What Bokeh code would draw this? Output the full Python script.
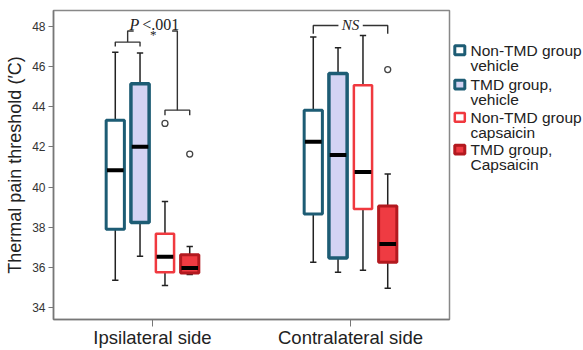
from bokeh.plotting import figure
from bokeh.models import Range1d, FixedTicker
from bokeh.layouts import row
from bokeh.embed import file_html
from bokeh.resources import INLINE
from bokeh.core.properties import value

# ---------------- data ----------------
sides = ["Ipsilateral side", "Contralateral side"]
legend_line1 = ["Non-TMD group", "TMD group,", "Non-TMD group", "TMD group,"]
legend_line2 = ["vehicle", "vehicle", "capsaicin", "Capsaicin"]

ipsi_lower = [35.35, 36.55, 35.09, 35.64]
ipsi_q1 = [37.90, 38.23, 35.75, 35.72]
ipsi_median = [40.83, 42.00, 36.52, 35.97]
ipsi_q3 = [43.33, 45.15, 37.67, 36.63]
ipsi_upper = [46.72, 46.68, 39.28, 37.04]

contra_lower = [36.25, 35.75, 35.85, 34.96]
contra_q1 = [38.65, 36.47, 38.91, 36.25]
contra_median = [42.26, 41.60, 40.75, 37.16]
contra_q3 = [43.83, 45.65, 45.07, 39.06]
contra_upper = [47.47, 46.94, 47.55, 40.65]

outlier_side = [0, 0, 1]
outlier_group = [2, 3, 3]
outlier_value = [43.17, 41.64, 45.85]

y_ticks = [34, 36, 38, 40, 42, 44, 46, 48]

# ---------------- styles ----------------
fills = ["#ffffff", "#d3d3f3", "#ffffff", "#ef3b42"]
lines = ["#1d5c74", "#1d5c74", "#f0393f", "#b3191f"]
lwidths = [3, 3.5, 2.5, 3]
offsets = [-0.188, -0.063, 0.063, 0.188]
box_w = 0.092
cap_w = 0.032
FONT = "Liberation Sans"
SERIF = "Liberation Serif"

p = figure(width=452, height=350, output_backend="svg", toolbar_location=None,
           x_range=Range1d(0.5, 2.5), y_range=Range1d(33.40, 48.794),
           min_border_left=53, min_border_top=10, min_border_right=3, min_border_bottom=0)
p.xgrid.visible = False
p.ygrid.visible = False
p.outline_line_color = "#888888"
p.outline_line_width = 1.5
p.background_fill_color = "white"
p.border_fill_color = "white"

# boxes
for si, (lo, a, m, b, u) in enumerate([(ipsi_lower, ipsi_q1, ipsi_median, ipsi_q3, ipsi_upper),
                                       (contra_lower, contra_q1, contra_median, contra_q3, contra_upper)]):
    for g in range(4):
        xc = si + 1 + offsets[g]
        p.segment(x0=[xc, xc], y0=[b[g], a[g]], x1=[xc, xc], y1=[u[g], lo[g]],
                  line_color="#222222", line_width=1.5)
        p.segment(x0=[xc - cap_w / 2] * 2, y0=[u[g], lo[g]], x1=[xc + cap_w / 2] * 2,
                  y1=[u[g], lo[g]], line_color="#222222", line_width=1.5)
        p.quad(left=[xc - box_w / 2], right=[xc + box_w / 2], bottom=[a[g]], top=[b[g]],
               fill_color=fills[g], line_color=lines[g], line_width=lwidths[g])
        p.segment(x0=[xc - box_w / 2 + 0.004], y0=[m[g]], x1=[xc + box_w / 2 - 0.004], y1=[m[g]],
                  line_color="black", line_width=4)

ox = [s + 1 + offsets[g] for s, g in zip(outlier_side, outlier_group)]
p.scatter(x=ox, y=outlier_value, marker="circle", size=6, fill_color="white",
          line_color="#444444", line_width=1.3)

# ---------------- significance annotations ----------------
bc = "#333333"
bw = 1.4
c = [1 + o for o in offsets]
d = [2 + o for o in offsets]
mid12 = (c[0] + c[1]) / 2
mid34 = (c[2] + c[3]) / 2
p.multi_line(
    xs=[[c[0], c[0], c[1], c[1]], [mid12, mid12, 0.905],
        [1.099, mid34, mid34], [c[2], c[2], c[3], c[3]]],
    ys=[[47.0, 47.22, 47.22, 47.0], [47.22, 47.77, 47.77],
        [47.77, 47.77, 43.83], [43.58, 43.83, 43.83, 43.58]],
    line_color=bc, line_width=bw)
p.text(x=[0.884], y=[48.12], text=["P"], text_font=value(SERIF), text_font_style="italic",
       text_font_size="16px", text_baseline="middle", text_color="#222222")
p.text(x=[0.948], y=[48.12], text=["<.001"], text_font=value(SERIF),
       text_font_size="16px", text_baseline="middle", text_color="#222222")
p.text(x=[1.004], y=[47.62], text=["*"], text_font=value(SERIF), text_align="center",
       text_font_size="13px", text_baseline="middle", text_color="#222222")

p.multi_line(xs=[[d[0], d[0], 1.939], [2.062, d[3], d[3]]],
             ys=[[47.64, 48.05, 48.05], [48.05, 48.05, 47.64]],
             line_color=bc, line_width=bw)
p.text(x=[2.0], y=[48.05], text=["NS"], text_font=value(SERIF), text_font_style="italic",
       text_font_size="15px", text_baseline="middle", text_align="center", text_color="#222222")

# ---------------- axes ----------------
p.xaxis.ticker = FixedTicker(ticks=[1, 2])
p.xaxis.major_label_overrides = {1: sides[0], 2: sides[1]}
p.xaxis.major_label_text_font = FONT
p.xaxis.major_label_text_font_size = "18.5px"
p.xaxis.major_label_text_color = "#222222"
p.xaxis.major_tick_out = 7
p.xaxis.major_tick_in = 0
p.xaxis.major_label_standoff = 0
p.xaxis.minor_tick_line_color = None
p.xaxis.axis_line_color = "#777777"
p.xaxis.major_tick_line_color = "#777777"
p.xaxis.axis_line_width = 1.5

p.yaxis.ticker = FixedTicker(ticks=y_ticks)
p.yaxis.major_label_text_font = FONT
p.yaxis.major_label_text_font_size = "12px"
p.yaxis.major_label_text_color = "#333333"
p.yaxis.major_tick_out = 5
p.yaxis.major_tick_in = 0
p.yaxis.major_label_standoff = 3
p.yaxis.minor_tick_line_color = None
p.yaxis.axis_line_color = "#777777"
p.yaxis.major_tick_line_color = "#777777"
p.yaxis.axis_line_width = 1.5
p.yaxis.axis_label = "Thermal pain threshold (\u2032C)"
p.yaxis.axis_label_text_font = FONT
p.yaxis.axis_label_text_font_size = "18px"
p.yaxis.axis_label_text_font_style = "normal"
p.yaxis.axis_label_text_color = "#222222"
p.yaxis.axis_label_standoff = 4

# ---------------- legend (separate panel) ----------------
lg = figure(width=131, height=350, output_backend="svg", toolbar_location=None,
            x_range=Range1d(0, 131), y_range=Range1d(350, 0),
            min_border=0)
lg.axis.visible = False
lg.xgrid.visible = False
lg.ygrid.visible = False
lg.outline_line_color = None
lg.background_fill_color = "white"
lg.border_fill_color = "white"
sq_y = [45.0, 84.0, 121.0, 157.5]
lg.rect(x=[7.3] * 4, y=sq_y, width=10, height=10, fill_color=fills,
        line_color=lines, line_width=[3, 3, 2.5, 3])
lg.text(x=[18] * 4, y=sq_y, text=legend_line1, text_font=value(FONT), text_font_size="15.5px",
        text_baseline="middle", text_color="#222222")
lg.text(x=[18] * 4, y=[v + 17 for v in sq_y], text=legend_line2, text_font=value(FONT),
        text_font_size="15.5px", text_baseline="middle", text_color="#222222")

layout = row(p, lg)
open("out.html", "w").write(file_html(layout, INLINE))
